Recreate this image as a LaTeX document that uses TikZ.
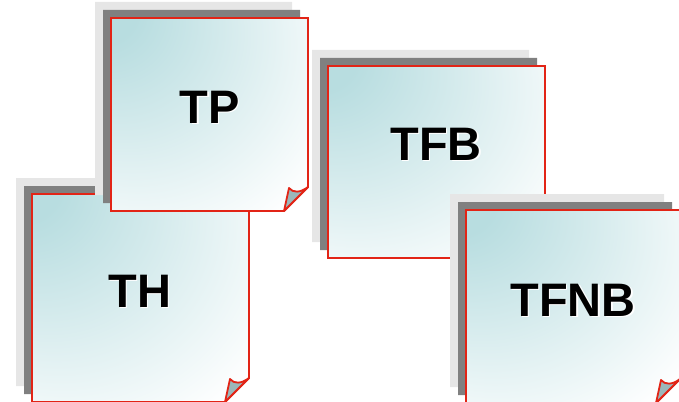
\documentclass[tikz,border=0pt]{standalone}
\usepackage{fontspec}
\setmainfont{Liberation Sans}
\definecolor{tealc}{RGB}{184,221,224}
\definecolor{curlc}{RGB}{155,183,186}
\definecolor{redc}{RGB}{226,36,22}
\definecolor{shdark}{RGB}{128,128,128}
\definecolor{shlight}{RGB}{230,230,230}
\pgfdeclareradialshading{cardshade}{\pgfpoint{-30bp}{30bp}}{color(0bp)=(tealc); color(9bp)=(tealc); color(52bp)=(white); color(100bp)=(white)}
\tikzset{
  cardface/.style={shading=cardshade, draw=redc, line width=1.8pt, line join=miter},
  curlface/.style={fill=curlc, draw=redc, line width=1.8pt, line join=round},
  shadowlight/.style={fill=shlight},
  shadowdark/.style={fill=shdark},
  cardlabel/.style={font=\bfseries\fontsize{47}{47}\selectfont, inner sep=0pt, text=black},
  cardlabelshadow/.style={font=\bfseries\fontsize{47}{47}\selectfont, inner sep=0pt, text=white}
}
% #1,#2 = top-left; #3,#4 = bottom-right; #5 name; #6 text; #7,#8 text position
\newcommand{\mycard}[8]{%
  \fill[shadowlight] (#1-16,#2-16) -- (#3-16,#2-16) -- (#3-16,#4-40) -- (#3-40,#4-16) -- (#1-16,#4-16) -- cycle;
  \fill[shadowdark] (#1-8,#2-8) -- (#3-8,#2-8) -- (#3-8,#4-32) -- (#3-32,#4-8) -- (#1-8,#4-8) -- cycle;
  \path[cardface] (#1,#2) -- (#3,#2) -- (#3,#4-24) -- (#3-24,#4) -- (#1,#4) -- cycle;
  \path[curlface] (#3-24,#4) -- (#3-19,#4-23) .. controls (#3-15,#4-18) and (#3-8,#4-18) .. (#3,#4-24) -- cycle;
  \node[cardlabelshadow] (#5s) at (#7+1.3,#8+1.3) {#6};
  \node[cardlabel] (#5) at (#7,#8) {#6};
}
\begin{document}
\begin{tikzpicture}[x=1pt,y=-1pt]
\useasboundingbox (0,0) rectangle (679,401);
\mycard{32}{194}{249}{402}{th}{TH}{140}{291}
\mycard{111}{18}{308}{211}{tp}{TP}{210}{107}
\mycard{328}{66}{545}{258}{tfb}{TFB}{436}{144}
\mycard{466}{210}{680}{403}{tfnb}{TFNB}{573}{300}
\end{tikzpicture}
\end{document}
